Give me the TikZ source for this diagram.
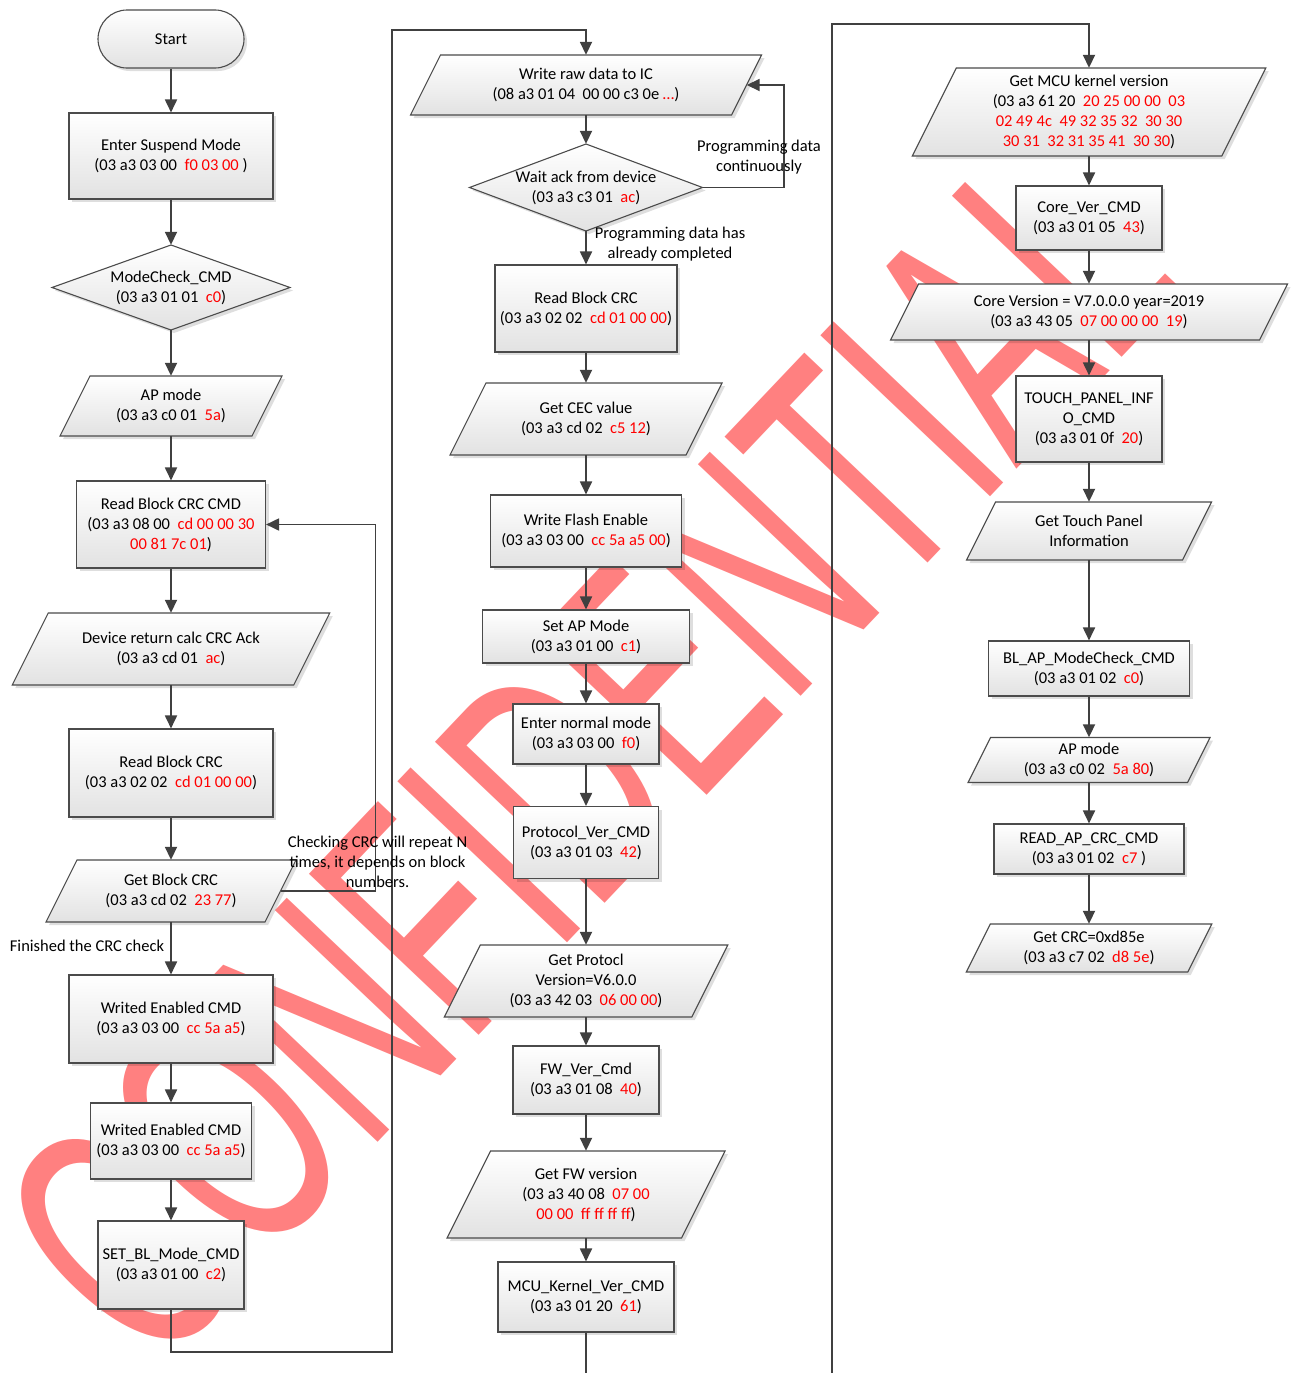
\documentclass[tikz,border=0pt]{standalone}
\usepackage{fontspec}
\setmainfont{Carlito}
\newfontfamily\wmfont{Liberation Sans}
\usetikzlibrary{arrows.meta,shadows,calc}
\definecolor{wm}{RGB}{255,128,128}
\definecolor{ln}{RGB}{64,64,64}
\definecolor{bx}{RGB}{75,75,75}
\definecolor{bot}{RGB}{226,226,226}
\definecolor{rd}{RGB}{255,0,0}
\newcommand\rd[1]{\textcolor{rd}{#1}}
\tikzset{
  txt/.style={font=\fontsize{16.5}{20}\selectfont, align=center, text=black},
  boxlook/.style={draw=bx, line width=1.1pt, top color=white, bottom color=bot,
    drop shadow={shadow xshift=3pt, shadow yshift=-3pt, fill=black, opacity=0.13}},
  pbox/.style={boxlook, txt, inner sep=0pt},
  ptext/.style={txt, inner sep=0pt},
  term/.style={pbox, rounded corners=29pt, minimum width=146pt, minimum height=58pt},
  lbl/.style={txt, inner sep=0pt},
  arr/.style={draw=ln, line width=1.8pt, -{Triangle[length=13pt,width=12pt]}},
  ln/.style={draw=ln, line width=1.8pt}
}
\newcommand\rbox[6]{\node[pbox,minimum width=#4pt,minimum height=#5pt] (#1) at (#2,#3) {#6};}
\newcommand\iobox[6]{\path[boxlook] ({#2-#4/2+#5/4},{#3-#5/2}) -- ({#2+#4/2+#5/4},{#3-#5/2}) -- ({#2+#4/2-#5/4},{#3+#5/2}) -- ({#2-#4/2-#5/4},{#3+#5/2}) -- cycle;
 \node[ptext,minimum width=#4pt,minimum height=#5pt] (#1) at (#2,#3) {#6};}
\newcommand\dbox[6]{\path[boxlook] (#2,{#3-#5/2}) -- ({#2+#4/2},#3) -- (#2,{#3+#5/2}) -- ({#2-#4/2},#3) -- cycle;
 \node[ptext,minimum width=#4pt,minimum height=#5pt] (#1) at (#2,#3) {#6};}
\begin{document}
\begin{tikzpicture}[x=1pt,y=-1pt]
\useasboundingbox (0,0) rectangle (1294,1373);
\fill[white] (0,0) rectangle (1294,1373);
% watermark
\node[text=wm, font=\wmfont\fontsize{340}{340}\selectfont, rotate=46.5, xscale=0.603, inner sep=0pt] (wmark) at (587,752) {CONFIDENTIAL};

% column 1
\node[term] (start) at (171,39) {Start};
\rbox{susp}{171}{156}{204}{86}{Enter Suspend Mode\\(03 a3 03 00~ \rd{f0 03 00} )}
\dbox{mchk}{171}{287.5}{238}{85}{ModeCheck\_CMD\\(03 a3 01 01~ \rd{c0})}
\iobox{apa}{171}{406}{192}{60}{AP mode\\(03 a3 c0 01~ \rd{5a})}
\rbox{rbc}{171}{524.5}{189}{87}{Read Block CRC CMD\\(03 a3 08 00~ \rd{cd 00 00 30}\\\rd{00 81 7c 01})}
\iobox{dev}{171}{649}{281.5}{72}{Device return calc CRC Ack\\(03 a3 cd 01~ \rd{ac})}
\rbox{rba}{171}{773}{204}{88}{Read Block CRC\\(03 a3 02 02~ \rd{cd 01 00 00})}
\iobox{gbc}{171}{891}{219}{62}{Get Block CRC\\(03 a3 cd 02~ \rd{23 77})}
\rbox{wea}{171}{1019}{204}{88}{Writed Enabled CMD\\(03 a3 03 00~ \rd{cc 5a a5})}
\rbox{web}{171}{1141}{161}{76}{Writed Enabled CMD\\(03 a3 03 00~ \rd{cc 5a a5})}
\rbox{sbl}{171}{1265}{146}{88}{SET\_BL\_Mode\_CMD\\(03 a3 01 00~ \rd{c2})}

% column 2
\iobox{wr}{586}{85}{321}{60}{Write raw data to IC\\(08 a3 01 04~ 00 00 c3 0e \rd{…})}
\dbox{wack}{586}{187.5}{233}{87}{Wait ack from device\\(03 a3 c3 01~ \rd{ac})}
\rbox{rbb}{586}{308.5}{182}{87}{Read Block CRC\\(03 a3 02 02~ \rd{cd 01 00 00})}
\iobox{cec}{586}{419}{236}{72}{Get CEC value\\(03 a3 cd 02~ \rd{c5 12})}
\rbox{wfe}{586}{531}{191}{72}{Write Flash Enable\\(03 a3 03 00~ \rd{cc 5a a5 00})}
\rbox{sap}{586}{636.5}{207}{53}{Set AP Mode\\(03 a3 01 00~ \rd{c1})}
\rbox{enm}{586}{734}{146}{60}{Enter normal mode\\(03 a3 03 00~ \rd{f0})}
\rbox{pvc}{586}{842.5}{145}{72}{Protocol\_Ver\_CMD\\(03 a3 01 03~ \rd{42})}
\iobox{gpv}{586}{981}{247.5}{72}{Get Protocl\\Version=V6.0.0\\(03 a3 42 03~ \rd{06 00 00})}
\rbox{fwv}{586}{1080}{146}{68}{FW\_Ver\_Cmd\\(03 a3 01 08~ \rd{40})}
\iobox{gfw}{586}{1194.5}{234.5}{87}{Get FW version\\(03 a3 40 08~ \rd{07 00}\\\rd{00 00~ ff ff ff ff})}
\rbox{mcu}{586}{1297}{176}{70}{MCU\_Kernel\_Ver\_CMD\\(03 a3 01 20~ \rd{61})}

% column 3
\iobox{gmcu}{1089}{112}{309.5}{88}{Get MCU kernel version\\(03 a3 61 20~ \rd{20 25 00 00~ 03}\\\rd{02 49 4c~ 49 32 35 32~ 30 30}\\\rd{30 31~ 32 31 35 41~ 30 30})}
\rbox{cvc}{1089}{218}{146}{64}{Core\_Ver\_CMD\\(03 a3 01 05~ \rd{43})}
\iobox{cv}{1089}{312}{369}{56}{Core Version = V7.0.0.0 year=2019\\(03 a3 43 05~ \rd{07 00 00 00~ 19})}
\rbox{tpi}{1089}{419}{146}{86}{TOUCH\_PANEL\_INF\\O\_CMD\\(03 a3 01 0f~ \rd{20})}
\iobox{gtp}{1089}{531}{216}{58}{Get Touch Panel\\Information}
\rbox{blap}{1089}{668.5}{201}{55}{BL\_AP\_ModeCheck\_CMD\\(03 a3 01 02~ \rd{c0})}
\iobox{apb}{1089}{760}{219.5}{45}{AP mode\\(03 a3 c0 02~ \rd{5a 80})}
\rbox{rac}{1089}{849}{190}{50}{READ\_AP\_CRC\_CMD\\(03 a3 01 02~ \rd{c7} )}
\iobox{gcrc}{1089}{948}{221.5}{48}{Get CRC=0xd85e\\(03 a3 c7 02~ \rd{d8 5e})}

% helper coordinates
\coordinate (loopa) at (375.5,524.5);
\coordinate (loopb) at (784,85);
\coordinate (ja) at (392,1352);
\coordinate (jb) at (586,30);
\coordinate (jc) at (832,1400);
\coordinate (jd) at (1089,24);

% connectors column 1
\draw[arr] (start) -- (susp);
\draw[arr] (susp) -- (mchk.north);
\draw[arr] (mchk.south) -- (apa.north);
\draw[arr] (apa.south) -- (rbc.north);
\draw[arr] (rbc.south) -- (dev.north);
\draw[arr] (dev.south) -- (rba.north);
\draw[arr] (rba.south) -- (gbc.north);
\draw[arr] (gbc.south) -- (wea.north);
\draw[arr] (wea.south) -- (web.north);
\draw[arr] (web.south) -- (sbl.north);
\draw[arr] (gbc.east) -| (loopa) -- (rbc.east);
\draw[arr] (sbl.south) |- (ja) |- (jb) -- (wr.north);

% connectors column 2
\draw[arr] (wr.south) -- (wack.north);
\draw[arr] (wack.south) -- (rbb.north);
\draw[arr] (wack.east) -| (loopb) -- (wr.east);
\draw[arr] (rbb.south) -- (cec.north);
\draw[arr] (cec.south) -- (wfe.north);
\draw[arr] (wfe.south) -- (sap.north);
\draw[arr] (sap.south) -- (enm.north);
\draw[arr] (enm.south) -- (pvc.north);
\draw[arr] (pvc.south) -- (gpv.north);
\draw[arr] (gpv.south) -- (fwv.north);
\draw[arr] (fwv.south) -- (gfw.north);
\draw[arr] (gfw.south) -- (mcu.north);
\draw[arr] (mcu.south) |- (jc) |- (jd) -- (gmcu.north);

% connectors column 3
\draw[arr] (gmcu.south) -- (cvc.north);
\draw[arr] (cvc.south) -- (cv.north);
\draw[arr] (cv.south) -- (tpi.north);
\draw[arr] (tpi.south) -- (gtp.north);
\draw[arr] (gtp.south) -- (blap.north);
\draw[arr] (blap.south) -- (apb.north);
\draw[arr] (apb.south) -- (rac.north);
\draw[arr] (rac.south) -- (gcrc.north);

% labels
\node[lbl] (lchk) at (377.5,862) {Checking CRC will repeat N\\times, it depends on block\\numbers.};
\node[lbl] (lcont) at (759,157) {Programming data\\continuously};
\node[lbl] (ldone) at (670,244) {Programming data has\\already completed};
\node[lbl] (lfin) at (87,946) {Finished the CRC check};
\end{tikzpicture}
\end{document}
